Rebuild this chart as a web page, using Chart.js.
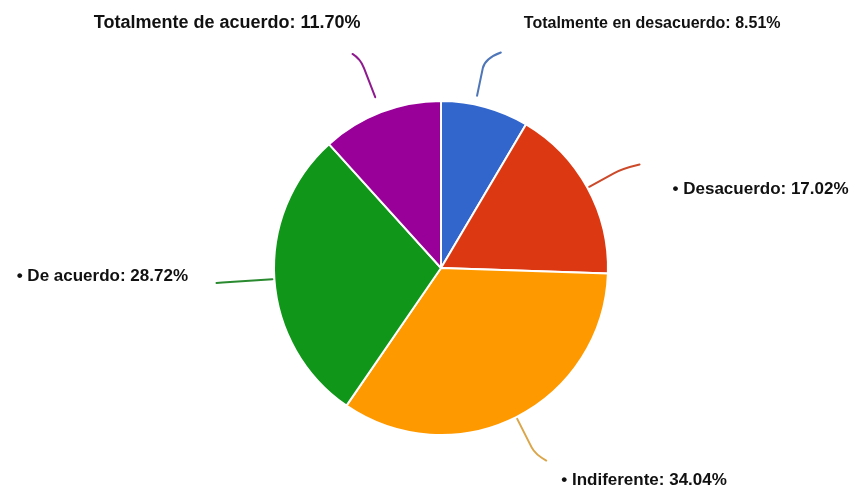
<!DOCTYPE html>
<html>
<head>
<meta charset="utf-8">
<script src="https://cdn.jsdelivr.net/npm/chart.js@4/dist/chart.umd.min.js"></script>
<style>
  html, body { margin: 0; padding: 0; background: #ffffff; }
  #wrap { position: relative; width: 855px; height: 491px; }
</style>
</head>
<body>
<div id="wrap"><canvas id="c" width="855" height="491"></canvas></div>
<script>
// ---- data ----
const categories = ['Totalmente en desacuerdo', 'Desacuerdo', 'Indiferente', 'De acuerdo', 'Totalmente de acuerdo'];
const percentages = [8.51, 17.02, 34.04, 28.72, 11.70];
const labelPrefixes = ['', '• ', '• ', '• ', ''];

// ---- style ----
const sliceColors = ['#3366cc', '#dc3912', '#ff9900', '#109618', '#990099'];
const leaderColors = ['#4f76b8', '#cc4a2a', '#dba64a', '#2a8a30', '#8f1a8f'];
const labelFontSizes = [16, 17, 17, 17, 18];
// leader line: angle tweak (deg), gap from rim, radial length beyond rim, forward bend, sideways bend
const leaderStyle = [
  { shift: -3.5, gap: 9, radial: 37, fwd: 10, side: 16, sideDy: -6 },
  { shift: 0, gap: 2, radial: 30, fwd: 10, side: 17, sideDy: -4 },
  { shift: 0, gap: 2, radial: 34, fwd: 8, side: 11, sideDy: 6 },
  { shift: 0, gap: 2, radial: 52, fwd: 6, side: 0, sideDy: 0 },
  { shift: 0, gap: 16, radial: 47, fwd: 10, side: -8, sideDy: -5 }
];
// label offset from leader end (alphabetic baseline)
const labelOffsets = [
  { dx: 23, dy: -24.5, align: 'left' },
  { dx: 33, dy: 29, align: 'left' },
  { dx: 15, dy: 24.5, align: 'left' },
  { dx: -28.5, dy: -2.4, align: 'right' },
  { dx: 8, dy: -26, align: 'right' }
];

const labelPlugin = {
  id: 'leaderLabels',
  afterDatasetsDraw(chart) {
    const ctx = chart.ctx;
    const meta = chart.getDatasetMeta(0);
    meta.data.forEach((arc, i) => {
      const { x, y, startAngle, endAngle, outerRadius } = arc.getProps(['x', 'y', 'startAngle', 'endAngle', 'outerRadius'], true);
      const ls = leaderStyle[i];
      const mid = (startAngle + endAngle) / 2 + ls.shift * Math.PI / 180;
      const ux = Math.cos(mid), uy = Math.sin(mid);
      const p0 = { x: x + ux * (outerRadius + ls.gap), y: y + uy * (outerRadius + ls.gap) };
      const p1 = { x: x + ux * (outerRadius + ls.radial), y: y + uy * (outerRadius + ls.radial) };
      const c = { x: p1.x + ux * ls.fwd, y: p1.y + uy * ls.fwd };
      const e = { x: c.x + ls.side, y: c.y + ls.sideDy };
      ctx.save();
      ctx.strokeStyle = leaderColors[i];
      ctx.lineWidth = 2;
      ctx.lineCap = 'round';
      ctx.beginPath();
      ctx.moveTo(p0.x, p0.y);
      ctx.lineTo(p1.x, p1.y);
      ctx.quadraticCurveTo(c.x, c.y, e.x, e.y);
      ctx.stroke();

      const off = labelOffsets[i];
      const text = labelPrefixes[i] + categories[i] + ': ' + percentages[i].toFixed(2) + '%';
      ctx.font = 'bold ' + labelFontSizes[i] + 'px "Liberation Sans", Arial, sans-serif';
      ctx.fillStyle = '#111111';
      ctx.textAlign = off.align;
      ctx.textBaseline = 'alphabetic';
      ctx.fillText(text, e.x + off.dx, e.y + off.dy);
      ctx.restore();
    });
  }
};

new Chart(document.getElementById('c'), {
  type: 'pie',
  data: {
    labels: categories,
    datasets: [{
      data: percentages,
      backgroundColor: sliceColors,
      borderColor: '#ffffff',
      borderWidth: 2
    }]
  },
  options: {
    responsive: false,
    animation: false,
    layout: { padding: { left: 273, right: 246, top: 100, bottom: 55 } },
    plugins: {
      legend: { display: false },
      tooltip: { enabled: false }
    }
  },
  plugins: [labelPlugin]
});
</script>
</body>
</html>
